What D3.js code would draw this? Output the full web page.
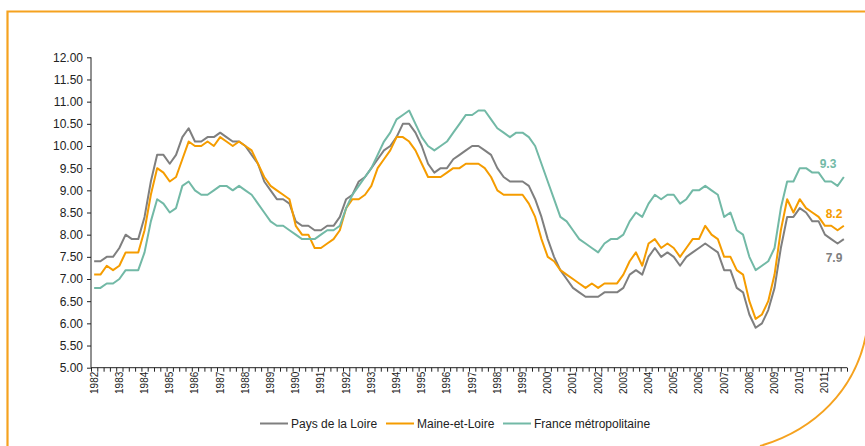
<!DOCTYPE html>
<html>
<head>
<meta charset="utf-8">
<script src="https://cdnjs.cloudflare.com/ajax/libs/d3/7.8.5/d3.min.js"></script>
<style>
  body { margin: 0; background: #fff; }
  svg { display: block; font-family: "Liberation Sans", Arial, sans-serif; }
</style>
</head>
<body>
<div id="chart"></div>
<script>
// annees affichees sur l'axe (un label par an, au 1er trimestre)
var years = d3.range(1982, 2012);
var quarters = [];
years.forEach(function(y) {
    for (var q = 1; q <= 4; q++) quarters.push(y + "T" + q);
});

var seriesNames = ["Pays de la Loire", "Maine-et-Loire", "France métropolitaine"];

var paysDeLaLoire = [
    7.4, 7.4, 7.5, 7.5, 7.7, 8.0, 7.9, 7.9, 8.4, 9.2,
    9.8, 9.8, 9.6, 9.8, 10.2, 10.4, 10.1, 10.1, 10.2, 10.2,
    10.3, 10.2, 10.1, 10.1, 10.0, 9.8, 9.6, 9.2, 9.0, 8.8,
    8.8, 8.7, 8.3, 8.2, 8.2, 8.1, 8.1, 8.2, 8.2, 8.4,
    8.8, 8.9, 9.2, 9.3, 9.5, 9.7, 9.9, 10.0, 10.2, 10.5,
    10.5, 10.3, 10.0, 9.6, 9.4, 9.5, 9.5, 9.7, 9.8, 9.9,
    10.0, 10.0, 9.9, 9.8, 9.5, 9.3, 9.2, 9.2, 9.2, 9.1,
    8.8, 8.4, 7.9, 7.5, 7.2, 7.0, 6.8, 6.7, 6.6, 6.6,
    6.6, 6.7, 6.7, 6.7, 6.8, 7.1, 7.2, 7.1, 7.5, 7.7,
    7.5, 7.6, 7.5, 7.3, 7.5, 7.6, 7.7, 7.8, 7.7, 7.6,
    7.2, 7.2, 6.8, 6.7, 6.2, 5.9, 6.0, 6.3, 6.8, 7.7,
    8.4, 8.4, 8.6, 8.5, 8.3, 8.3, 8.0, 7.9, 7.8, 7.9
];

var maineEtLoire = [
    7.1, 7.1, 7.3, 7.2, 7.3, 7.6, 7.6, 7.6, 8.1, 8.9,
    9.5, 9.4, 9.2, 9.3, 9.7, 10.1, 10.0, 10.0, 10.1, 10.0,
    10.2, 10.1, 10.0, 10.1, 10.0, 9.9, 9.6, 9.3, 9.1, 9.0,
    8.9, 8.8, 8.2, 8.0, 8.0, 7.7, 7.7, 7.8, 7.9, 8.1,
    8.6, 8.8, 8.8, 8.9, 9.1, 9.5, 9.7, 9.9, 10.2, 10.2,
    10.1, 9.9, 9.6, 9.3, 9.3, 9.3, 9.4, 9.5, 9.5, 9.6,
    9.6, 9.6, 9.5, 9.3, 9.0, 8.9, 8.9, 8.9, 8.9, 8.7,
    8.4, 7.9, 7.5, 7.4, 7.2, 7.1, 7.0, 6.9, 6.8, 6.9,
    6.8, 6.9, 6.9, 6.9, 7.1, 7.4, 7.6, 7.3, 7.8, 7.9,
    7.7, 7.8, 7.7, 7.5, 7.7, 7.9, 7.9, 8.2, 8.0, 7.9,
    7.5, 7.5, 7.2, 7.1, 6.5, 6.1, 6.2, 6.5, 7.1, 8.1,
    8.8, 8.5, 8.8, 8.6, 8.5, 8.4, 8.2, 8.2, 8.1, 8.2
];

var franceMetro = [
    6.8, 6.8, 6.9, 6.9, 7.0, 7.2, 7.2, 7.2, 7.6, 8.3,
    8.8, 8.7, 8.5, 8.6, 9.1, 9.2, 9.0, 8.9, 8.9, 9.0,
    9.1, 9.1, 9.0, 9.1, 9.0, 8.9, 8.7, 8.5, 8.3, 8.2,
    8.2, 8.1, 8.0, 7.9, 7.9, 7.9, 8.0, 8.1, 8.1, 8.2,
    8.6, 8.9, 9.1, 9.3, 9.5, 9.8, 10.1, 10.3, 10.6, 10.7,
    10.8, 10.5, 10.2, 10.0, 9.9, 10.0, 10.1, 10.3, 10.5, 10.7,
    10.7, 10.8, 10.8, 10.6, 10.4, 10.3, 10.2, 10.3, 10.3, 10.2,
    10.0, 9.6, 9.2, 8.8, 8.4, 8.3, 8.1, 7.9, 7.8, 7.7,
    7.6, 7.8, 7.9, 7.9, 8.0, 8.3, 8.5, 8.4, 8.7, 8.9,
    8.8, 8.9, 8.9, 8.7, 8.8, 9.0, 9.0, 9.1, 9.0, 8.9,
    8.4, 8.5, 8.1, 8.0, 7.5, 7.2, 7.3, 7.4, 7.7, 8.6,
    9.2, 9.2, 9.5, 9.5, 9.4, 9.4, 9.2, 9.2, 9.1, 9.3
];

var yTicks = d3.range(5, 12.01, 0.5);

var colors = ["#7f7f7f", "#f59c00", "#72b9a6"];
var allSeries = [paysDeLaLoire, maineEtLoire, franceMetro];

var W = 865, H = 446;
var plotLeft = 91, plotRight = 847, plotTop = 57.3, plotBottom = 367.7;

var svg = d3.select("#chart").append("svg")
    .attr("width", W)
    .attr("height", H);

// cadre orange
svg.append("path")
    .attr("d", "M7.5,446 L7.5,11.5 L865,11.5")
    .attr("fill", "none")
    .attr("stroke", "#f5a21f")
    .attr("stroke-width", 2.2);
svg.append("path")
    .attr("d", "M760,446 C815,430 855,390 866,335")
    .attr("fill", "none")
    .attr("stroke", "#f5a21f")
    .attr("stroke-width", 2);

var x = d3.scaleBand().domain(quarters).range([plotLeft, plotRight]).padding(0);
var xTick = d3.scaleLinear().domain([0, quarters.length]).range([plotLeft, plotRight]);
var y = d3.scaleLinear().domain([5, 12]).range([plotBottom, plotTop]);

// axe Y
var yAxis = svg.append("g")
    .attr("transform", "translate(" + plotLeft + ",0)")
    .call(d3.axisLeft(y).tickValues(yTicks).tickFormat(d3.format(".2f")).tickSize(4).tickPadding(4));
yAxis.selectAll("text").attr("font-size", "12px").attr("fill", "#222");
yAxis.selectAll("line").attr("stroke", "#222");
yAxis.select(".domain").attr("stroke", "#222").attr("d", "M0," + plotTop + "V" + plotBottom);

// axe X : petites graduations a chaque trimestre
var xAxisTicks = svg.append("g")
    .attr("transform", "translate(0," + plotBottom + ")")
    .call(d3.axisBottom(xTick).tickValues(d3.range(0, quarters.length + 1)).tickSize(4).tickFormat(""));
xAxisTicks.selectAll("line").attr("stroke", "#222");
xAxisTicks.select(".domain").attr("stroke", "#222").attr("d", "M" + plotLeft + ",0H" + plotRight);

// labels des annees
var xAxis = svg.append("g")
    .attr("transform", "translate(0," + plotBottom + ")")
    .call(d3.axisBottom(x)
        .tickValues(quarters.filter(function(q) { return q.slice(-2) == "T1"; }))
        .tickSize(0)
        .tickFormat(function(q) { return q.slice(0, 4); }));
xAxis.select(".domain").remove();
xAxis.selectAll("text")
    .attr("font-size", "10px")
    .attr("fill", "#222")
    .attr("text-anchor", "end")
    .attr("transform", "rotate(-90)")
    .attr("x", -4)
    .attr("y", 0)
    .attr("dy", "0.35em");

// courbes
var line = d3.line()
    .x(function(d, i) { return x(quarters[i]) + x.bandwidth() / 2; })
    .y(function(d) { return y(d); });

allSeries.forEach(function(s, k) {
    svg.append("path")
        .datum(s)
        .attr("fill", "none")
        .attr("stroke", colors[k])
        .attr("stroke-width", 2)
        .attr("stroke-linejoin", "round")
        .attr("d", line);
});

// valeurs de fin (gris sous la courbe, orange et vert au-dessus)
var endOffsets = [18.5, -12, -13.5];
var endX = [834, 834, 828];
allSeries.forEach(function(s, k) {
    var last = s[s.length - 1];
    svg.append("text")
        .attr("x", endX[k])
        .attr("y", y(last) + endOffsets[k])
        .attr("text-anchor", "middle")
        .attr("dy", "0.35em")
        .attr("font-size", "12px")
        .attr("font-weight", "bold")
        .attr("fill", colors[k])
        .text(last.toFixed(1));
});

// legende
var legendX = [260, 386, 503];
seriesNames.forEach(function(name, k) {
    var g = svg.append("g").attr("transform", "translate(" + legendX[k] + ",423.5)");
    g.append("line")
        .attr("x1", 0).attr("x2", 28)
        .attr("stroke", colors[k])
        .attr("stroke-width", 2);
    g.append("text")
        .attr("x", 31)
        .attr("dy", "0.35em")
        .attr("font-size", "12px")
        .attr("fill", "#222")
        .text(name);
});
</script>
</body>
</html>
